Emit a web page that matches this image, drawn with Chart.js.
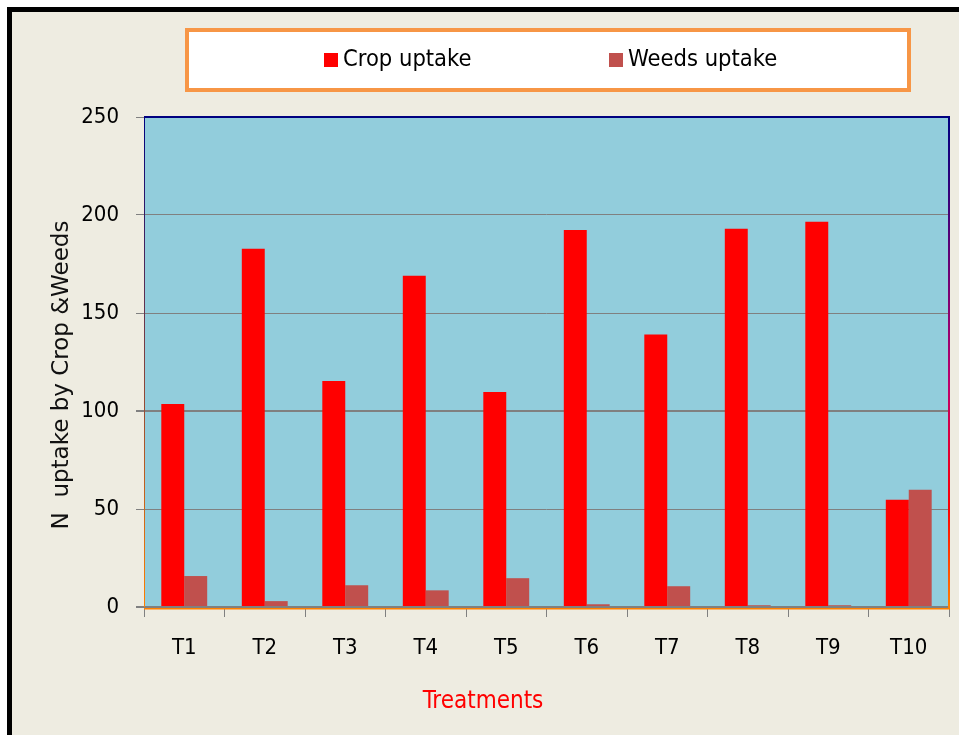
<!DOCTYPE html>
<html>
<head>
<meta charset="utf-8">
<title>N uptake by Crop & Weeds</title>
<script src="https://cdn.jsdelivr.net/npm/chart.js@4.4.1/dist/chart.umd.min.js"></script>
<style>
  html, body { margin: 0; padding: 0; background: #ffffff; }
  #wrap { width: 959px; height: 735px; }
</style>
</head>
<body>
<div id="wrap"><canvas id="chart" width="959" height="735"></canvas></div>
<script>
/* data */
const TREATMENTS = ['T1', 'T2', 'T3', 'T4', 'T5', 'T6', 'T7', 'T8', 'T9', 'T10'];
const CROP_UPTAKE = [103.6, 182.8, 115.3, 169.0, 109.7, 192.4, 139.0, 193.0, 196.6, 54.7];
const WEEDS_UPTAKE = [15.8, 3.0, 11.1, 8.5, 14.7, 1.4, 10.6, 0.9, 0.9, 59.8];
const Y_TICKS = [0, 50, 100, 150, 200, 250];
const X_TITLE = 'Treatments';
const Y_TITLE = 'N  uptake by Crop &Weeds';

const FONT = '"DejaVu Sans Condensed", "DejaVu Sans", sans-serif';
const PLOT_BG = '#92cddc';
const PAGE_BG = '#eeece1';
const GRID = '#808080';

/* ── page frame, plot fill, axis titles and hand-drawn legend ── */
const framePlugin = {
  id: 'frame',
  beforeDraw(chart) {
    const { ctx, width, height, chartArea: a } = chart;
    ctx.save();
    ctx.fillStyle = '#ffffff';
    ctx.fillRect(0, 0, width, height);
    ctx.fillStyle = '#000000';
    ctx.fillRect(7, 7, width - 7, height - 7);
    ctx.fillStyle = PAGE_BG;
    ctx.fillRect(12, 12, width - 12, height - 12);
    ctx.fillStyle = PLOT_BG;
    ctx.fillRect(a.left, a.top, a.right - a.left, a.bottom - a.top);
    ctx.restore();
  },
  afterDraw(chart) {
    const { ctx, chartArea: a } = chart;
    ctx.save();
    // plot area edges
    const grad = ctx.createLinearGradient(0, a.top, 0, a.bottom);
    grad.addColorStop(0, '#000080');
    grad.addColorStop(0.55, '#c0006a');
    grad.addColorStop(0.8, '#ff0000');
    grad.addColorStop(1, '#ff8000');
    ctx.lineWidth = 2;
    ctx.strokeStyle = grad;
    ctx.beginPath();
    ctx.moveTo(a.right, a.top);
    ctx.lineTo(a.right, a.bottom + 2);
    ctx.stroke();
    const gradL = ctx.createLinearGradient(0, a.top, 0, a.bottom);
    gradL.addColorStop(0, '#000080');
    gradL.addColorStop(1, '#ff8000');
    ctx.lineWidth = 1;
    ctx.strokeStyle = gradL;
    ctx.beginPath();
    ctx.moveTo(a.left + 0.5, a.top);
    ctx.lineTo(a.left + 0.5, a.bottom);
    ctx.stroke();
    ctx.lineWidth = 2;
    ctx.strokeStyle = '#000080';
    ctx.beginPath();
    ctx.moveTo(a.left, a.top);
    ctx.lineTo(a.right + 1, a.top);
    ctx.stroke();
    ctx.lineWidth = 1.5;
    ctx.strokeStyle = '#ff8000';
    ctx.beginPath();
    ctx.moveTo(a.left, a.bottom + 1.75);
    ctx.lineTo(a.right + 1, a.bottom + 1.75);
    ctx.stroke();

    // axis titles
    ctx.textAlign = 'center';
    ctx.textBaseline = 'middle';
    ctx.fillStyle = '#ff0000';
    ctx.font = '24px ' + FONT;
    ctx.fillText(X_TITLE, 483, 702);
    ctx.save();
    ctx.translate(62, 375);
    ctx.rotate(-Math.PI / 2);
    ctx.fillStyle = '#111111';
    ctx.font = '23px "DejaVu Sans", sans-serif';
    ctx.fillText(Y_TITLE, 0, 0);
    ctx.restore();

    // legend box
    ctx.fillStyle = '#ffffff';
    ctx.fillRect(185, 28, 726, 64);
    ctx.lineWidth = 4;
    ctx.strokeStyle = '#f79646';
    ctx.strokeRect(187, 30, 722, 60);
    const items = [324, 609];
    ctx.font = '23.5px ' + FONT;
    ctx.textAlign = 'left';
    ctx.textBaseline = 'middle';
    chart.data.datasets.forEach((ds, i) => {
      const x = items[i];
      ctx.fillStyle = ds.backgroundColor;
      ctx.fillRect(x, 53, 14, 14);
      ctx.fillStyle = '#000000';
      ctx.fillText(ds.label, x + 19, 60);
    });
    ctx.restore();
  },
};

new Chart(document.getElementById('chart'), {
  type: 'bar',
  data: {
    labels: TREATMENTS,
    datasets: [
      { label: 'Crop uptake', data: CROP_UPTAKE, backgroundColor: '#ff0000' },
      { label: 'Weeds uptake', data: WEEDS_UPTAKE, backgroundColor: '#c0504d' },
    ],
  },
  options: {
    responsive: false,
    animation: false,
    layout: { padding: { top: 117, right: 10, bottom: 19, left: 49 } },
    datasets: { bar: { barPercentage: 1, categoryPercentage: 0.57 } },
    plugins: {
      legend: { display: false },
      tooltip: { enabled: false },
    },
    scales: {
      x: {
        afterFit: s => { s.height = 109; },
        grid: {
          offset: true,
          drawOnChartArea: false,
          drawTicks: true,
          tickLength: 10,
          color: GRID,
          lineWidth: 1,
        },
        border: { display: false },
        ticks: { color: '#000000', padding: 18, font: { family: FONT, size: 22 } },
      },
      y: {
        min: 0,
        max: 250,
        afterFit: s => { s.width = 95; },
        afterBuildTicks: s => { s.ticks = Y_TICKS.map(v => ({ value: v })); },
        grid: {
          color: GRID,
          tickLength: 8,
          lineWidth: c => (c.tick && c.tick.value === 0 ? 2 : c.tick && c.tick.value === 100 ? 2 : 1),
        },
        border: { display: false },
        ticks: { color: '#000000', padding: 17, font: { family: FONT, size: 22 } },
      },
    },
  },
  plugins: [framePlugin],
});
</script>
</body>
</html>
